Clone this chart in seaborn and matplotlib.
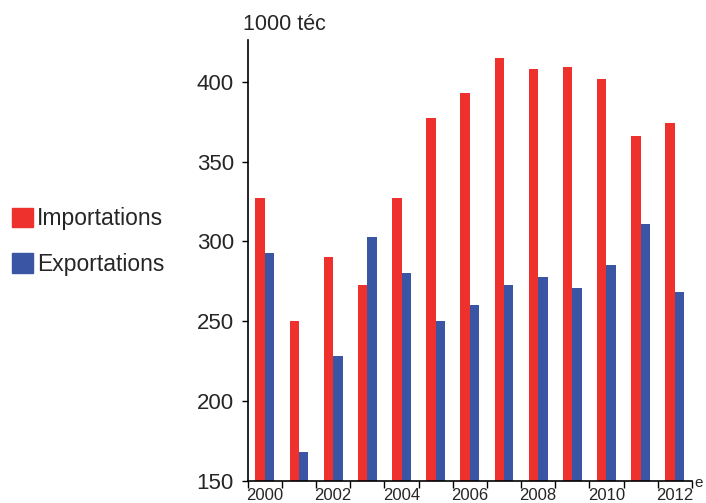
import matplotlib
matplotlib.use("Agg")
import matplotlib.pyplot as plt
import matplotlib.patches as mpatches
import seaborn as sns
import pandas as pd

years = ['2000', '2001', '2002', '2003', '2004', '2005', '2006',
         '2007', '2008', '2009', '2010', '2011', '2012']
importations = [327, 250, 290, 273, 327, 377, 393, 415, 408, 409, 402, 366, 374]
exportations = [293, 168, 228, 303, 280, 250, 260, 273, 278, 271, 285, 311, 268]
series_names = ['Importations', 'Exportations']
colors = ['#EE312D', '#3A55A4']
y_ticks = [150, 200, 250, 300, 350, 400]

df = pd.DataFrame({
    'annee': years * 2,
    'valeur': importations + exportations,
    'serie': [series_names[0]] * len(years) + [series_names[1]] * len(years),
})

sns.set_style('ticks')
plt.rcParams['font.family'] = ['Liberation Sans Narrow', 'Liberation Sans', 'DejaVu Sans']

fig = plt.figure(figsize=(7.06, 5.03), dpi=100)
ax = fig.add_axes([0.351, 0.044, 0.629, 0.876])

sns.barplot(data=df, x='annee', y='valeur', hue='serie', palette=colors,
            width=0.55, saturation=1, linewidth=0, legend=False, ax=ax)

ax.set_ylim(150, 426)
ax.set_xlim(-0.5, len(years) - 0.5)
ax.set_yticks(y_ticks)
ax.set_yticklabels([str(v) for v in y_ticks], fontsize=16)
ax.set_xlabel('')
ax.set_ylabel('')

# labels at even years, tick marks between categories
ax.set_xticks(range(0, len(years), 2))
ax.set_xticklabels([years[i] for i in range(0, len(years), 2)], fontsize=12)
ax.tick_params(axis='x', which='major', length=0, pad=5)
ax.set_xticks([i - 0.5 for i in range(len(years) + 1)], minor=True)
ax.tick_params(axis='x', which='minor', length=5, width=1, color='black', direction='out')
ax.tick_params(axis='y', length=4, width=1, color='black', pad=6)

sns.despine(ax=ax)
for side in ['left', 'bottom']:
    ax.spines[side].set_linewidth(1.2)
    ax.spines[side].set_color('black')

fig.text(0.344, 0.952, '1000 téc', fontsize=15.5, ha='left', va='center')
fig.text(0.984, 0.04, 'e', fontsize=11, ha='left', va='center')

handles = [mpatches.Patch(facecolor=c, edgecolor=c, label=n) for c, n in zip(colors, series_names)]
fig.legend(handles=handles, loc='center left', bbox_to_anchor=(0.017, 0.52),
           frameon=False, fontsize=16.5, handlelength=0.9, handleheight=0.9,
           handletextpad=0.2, labelspacing=1.0, borderpad=0, borderaxespad=0)

fig.savefig('out.png', dpi=100)
